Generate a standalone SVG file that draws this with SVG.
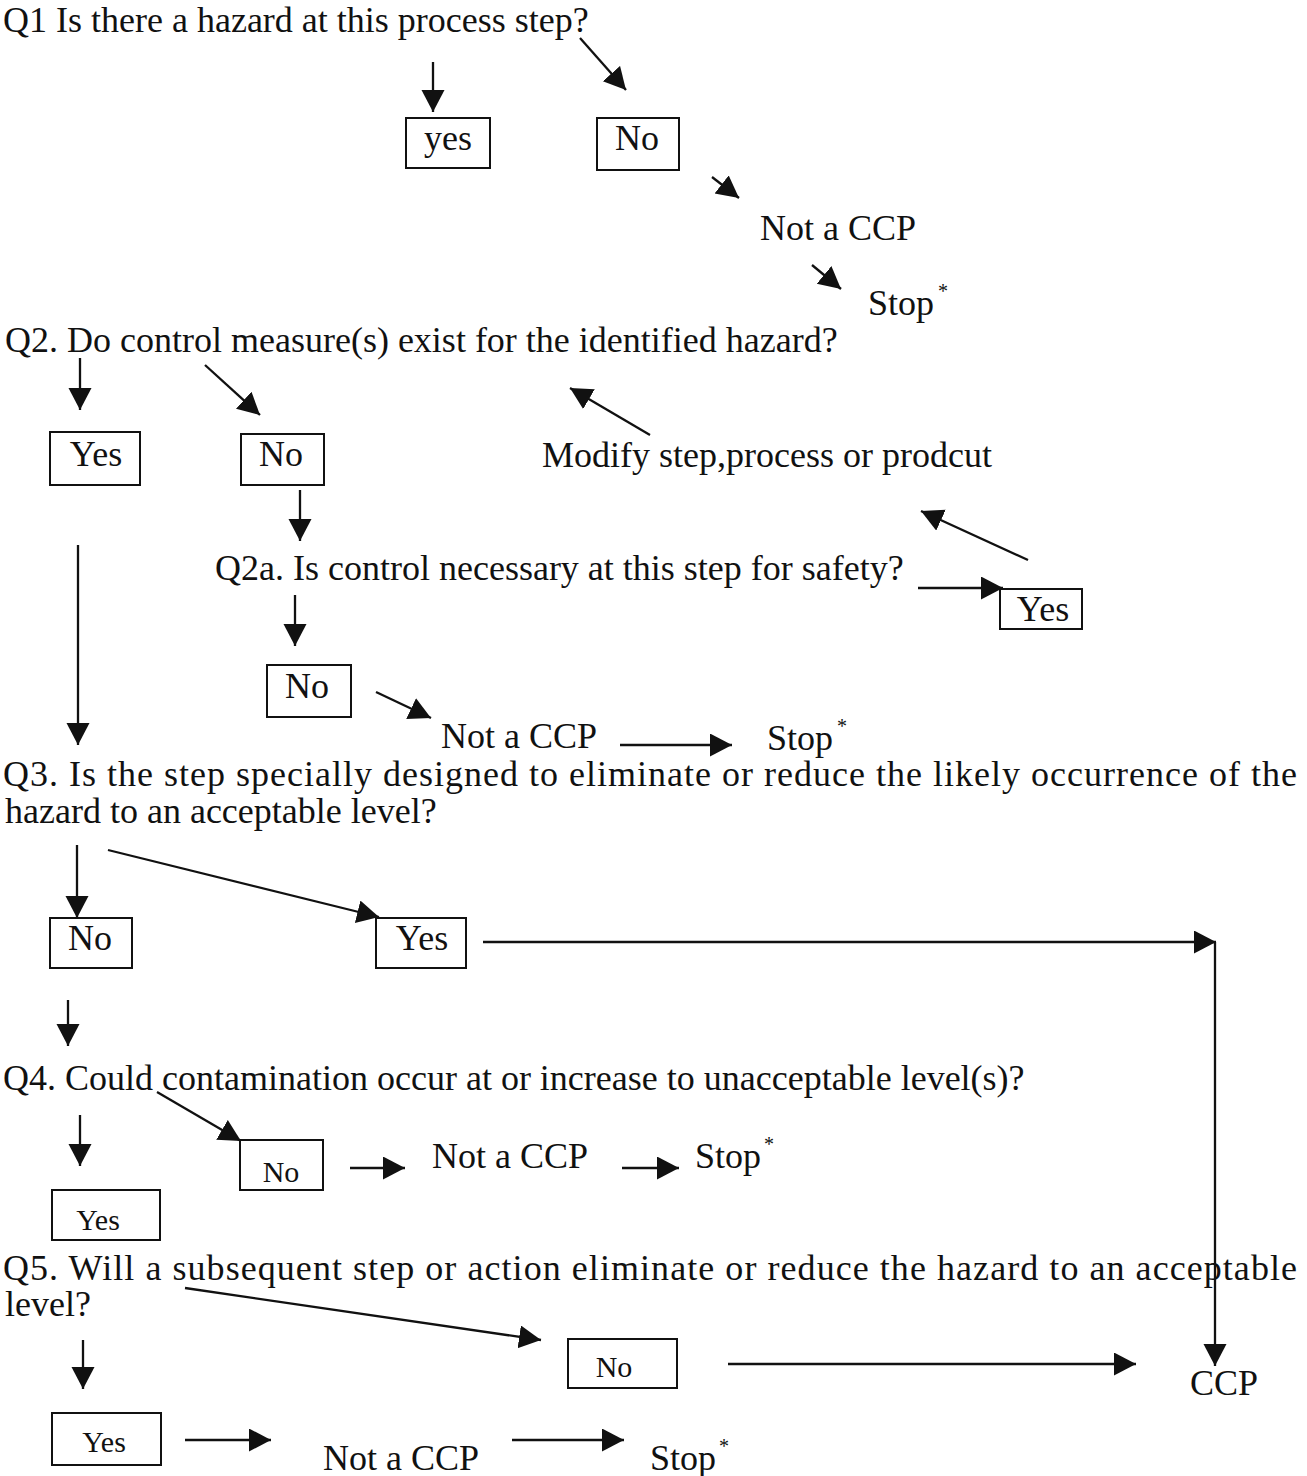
<svg xmlns="http://www.w3.org/2000/svg" width="1307" height="1476" viewBox="0 0 1307 1476">
<style>
text{font-family:"Liberation Serif","Times New Roman",serif;font-size:36px;fill:#111}
.bt{text-anchor:middle}
.sm{font-size:30px}
.sup{font-size:20px}
rect{fill:none;stroke:#111;stroke-width:2}
.c line{stroke:#111;stroke-width:2.3;fill:none}
</style>
<defs>
<marker id="ah" markerUnits="userSpaceOnUse" markerWidth="26" markerHeight="26" refX="22" refY="11.5" orient="auto">
<path d="M0,0 L22,11.5 L0,23 z" fill="#111"/>
</marker>
</defs>
<rect x="0" y="0" width="1307" height="1476" style="fill:#fff;stroke:none"/>

<g id="q1"><text x="3" y="32">Q1  Is there a hazard at this process step?</text></g>
<g id="q1-yes"><rect x="406" y="118" width="84" height="50"/><text class="bt" x="448" y="150">yes</text></g>
<g id="q1-no"><rect x="597" y="118" width="82" height="52"/><text class="bt" x="637" y="150">No</text></g>
<g id="q1-notccp"><text x="760" y="240">Not a CCP</text></g>
<g id="q1-stop"><text x="868" y="315">Stop</text><text class="sup" x="938" y="298">*</text></g>

<g id="q2"><text x="5" y="352">Q2. Do control measure(s) exist for the identified hazard?</text></g>
<g id="q2-yes"><rect x="50" y="432" width="90" height="53"/><text class="bt" x="96" y="466">Yes</text></g>
<g id="q2-no"><rect x="241" y="434" width="83" height="51"/><text class="bt" x="281" y="466">No</text></g>
<g id="modify"><text x="542" y="467">Modify step,process or prodcut</text></g>
<g id="q2a"><text x="215" y="580">Q2a. Is control necessary at this step for safety?</text></g>
<g id="q2a-yes"><rect x="1000" y="589" width="82" height="40"/><text class="bt" x="1043" y="621">Yes</text></g>
<g id="q2a-no"><rect x="267" y="665" width="84" height="52"/><text class="bt" x="307" y="698">No</text></g>
<g id="q2a-notccp"><text x="441" y="748">Not a CCP</text></g>
<g id="q2a-stop"><text x="767" y="750">Stop</text><text class="sup" x="837" y="733">*</text></g>

<g id="q3"><text x="3" y="786" textLength="1294" lengthAdjust="spacing">Q3. Is the step specially designed to eliminate or reduce the likely occurrence of the</text><text x="5" y="823">hazard to an acceptable level?</text></g>
<g id="q3-no"><rect x="50" y="918" width="82" height="50"/><text class="bt" x="90" y="950">No</text></g>
<g id="q3-yes"><rect x="376" y="918" width="90" height="50"/><text class="bt" x="422" y="950">Yes</text></g>

<g id="q4"><text x="3" y="1090">Q4. Could contamination occur at or increase to unacceptable level(s)?</text></g>
<g id="q4-no"><rect x="240" y="1140" width="83" height="50"/><text class="bt sm" x="281" y="1182">No</text></g>
<g id="q4-notccp"><text x="432" y="1168">Not a CCP</text></g>
<g id="q4-stop"><text x="695" y="1168">Stop</text><text class="sup" x="764" y="1151">*</text></g>
<g id="q4-yes"><rect x="52" y="1190" width="108" height="50"/><text class="bt sm" x="98" y="1230">Yes</text></g>

<g id="q5"><text x="3" y="1280" textLength="1294" lengthAdjust="spacing">Q5. Will a subsequent step or action eliminate or reduce the hazard to an acceptable</text><text x="5" y="1316">level?</text></g>
<g id="q5-no"><rect x="568" y="1339" width="109" height="49"/><text class="bt sm" x="614" y="1377">No</text></g>
<g id="ccp"><text x="1190" y="1395">CCP</text></g>
<g id="q5-yes"><rect x="52" y="1413" width="109" height="52"/><text class="bt sm" x="104" y="1452">Yes</text></g>
<g id="q5-notccp"><text x="323" y="1470">Not a CCP</text></g>
<g id="q5-stop"><text x="650" y="1470">Stop</text><text class="sup" x="719" y="1453">*</text></g>

<g id="connectors" class="c">
<line x1="433" y1="62" x2="433" y2="112" marker-end="url(#ah)"/>
<line x1="580" y1="38" x2="626" y2="90" marker-end="url(#ah)"/>
<line x1="712" y1="177" x2="739" y2="198" marker-end="url(#ah)"/>
<line x1="812" y1="265" x2="841" y2="289" marker-end="url(#ah)"/>
<line x1="80" y1="358" x2="80" y2="410" marker-end="url(#ah)"/>
<line x1="205" y1="365" x2="260" y2="415" marker-end="url(#ah)"/>
<line x1="650" y1="435" x2="570" y2="388" marker-end="url(#ah)"/>
<line x1="300" y1="490" x2="300" y2="541" marker-end="url(#ah)"/>
<line x1="78" y1="545" x2="78" y2="745" marker-end="url(#ah)"/>
<line x1="918" y1="588" x2="1003" y2="588" marker-end="url(#ah)"/>
<line x1="1028" y1="560" x2="921" y2="511" marker-end="url(#ah)"/>
<line x1="295" y1="595" x2="295" y2="646" marker-end="url(#ah)"/>
<line x1="376" y1="692" x2="431" y2="718" marker-end="url(#ah)"/>
<line x1="620" y1="745" x2="732" y2="745" marker-end="url(#ah)"/>
<line x1="77" y1="845" x2="77" y2="918" marker-end="url(#ah)"/>
<line x1="108" y1="850" x2="379" y2="917" marker-end="url(#ah)"/>
<line x1="483" y1="942" x2="1216" y2="942" marker-end="url(#ah)"/>
<line x1="1215" y1="942" x2="1215" y2="1366" marker-end="url(#ah)"/>
<line x1="68" y1="1000" x2="68" y2="1046" marker-end="url(#ah)"/>
<line x1="80" y1="1115" x2="80" y2="1166" marker-end="url(#ah)"/>
<line x1="157" y1="1092" x2="241" y2="1141" marker-end="url(#ah)"/>
<line x1="350" y1="1168" x2="405" y2="1168" marker-end="url(#ah)"/>
<line x1="622" y1="1168" x2="679" y2="1168" marker-end="url(#ah)"/>
<line x1="185" y1="1288" x2="541" y2="1340" marker-end="url(#ah)"/>
<line x1="728" y1="1364" x2="1136" y2="1364" marker-end="url(#ah)"/>
<line x1="83" y1="1340" x2="83" y2="1389" marker-end="url(#ah)"/>
<line x1="185" y1="1440" x2="271" y2="1440" marker-end="url(#ah)"/>
<line x1="512" y1="1440" x2="624" y2="1440" marker-end="url(#ah)"/>
</g>
</svg>
